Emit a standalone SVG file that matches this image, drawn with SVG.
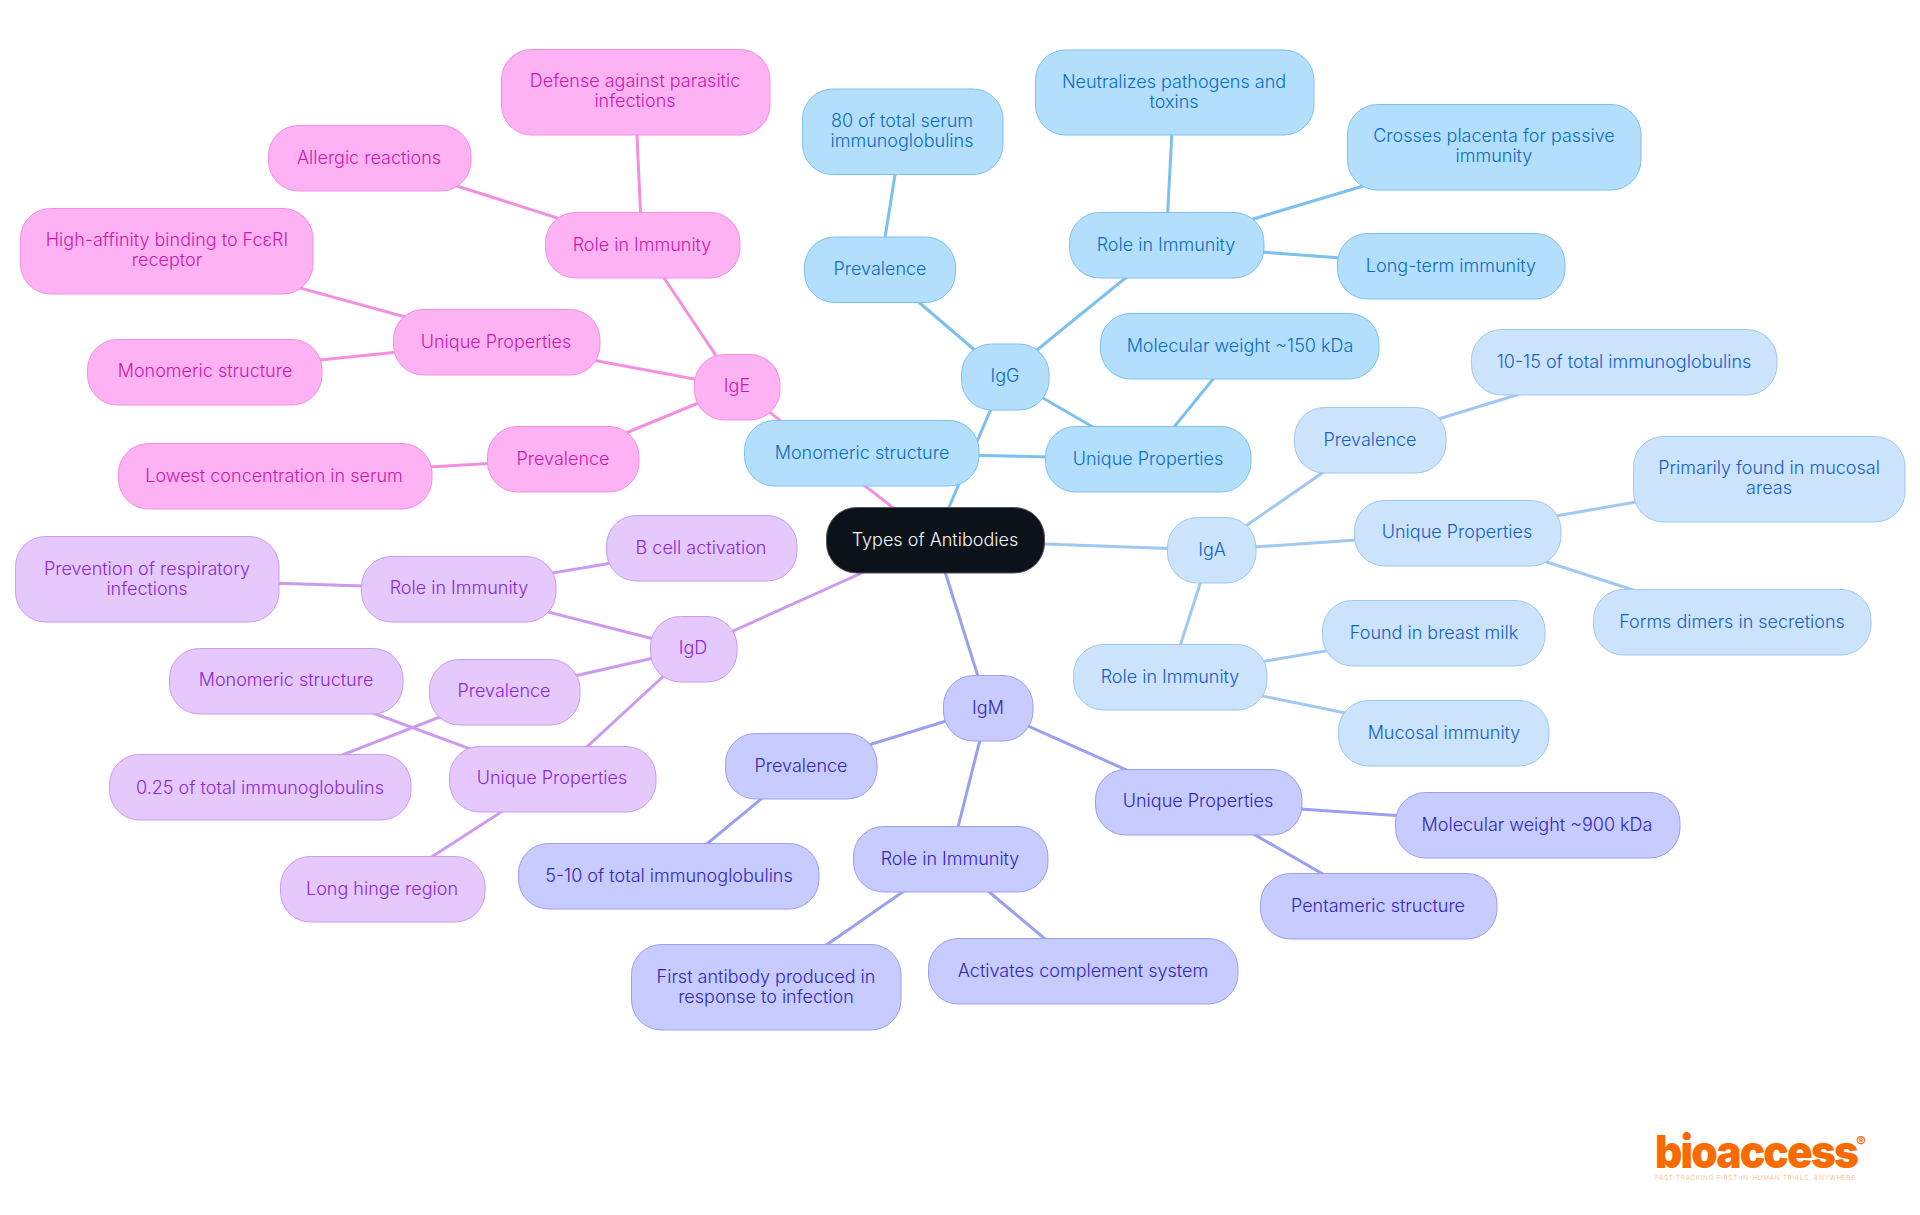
<svg xmlns="http://www.w3.org/2000/svg" width="1920" height="1215" viewBox="0 0 1920 1215">
<style>
text{font-family:Inter,"Noto Sans","Liberation Sans",sans-serif;font-size:18px;font-weight:350;text-anchor:middle}
rect{stroke-width:1}
#connectors line{stroke-width:3;fill:none}
.g line{stroke:#7cc0f0}.a line{stroke:#9fc8f2}.m line{stroke:#9a9ff0}.d line{stroke:#cd9af0}.e line{stroke:#f48fe0}
.G rect{fill:#b3dffd;stroke:#7cc0f0}.G text{fill:#0b6cc4}
.A rect{fill:#cce3fc;stroke:#9fc8f2}.A text{fill:#1560c8}
.M rect{fill:#c7cbfd;stroke:#9a9ff0}.M text{fill:#3226c0}
.D rect{fill:#e5c9fc;stroke:#cd9af0}.D text{fill:#8a28d8}
.E rect{fill:#fdb3f3;stroke:#f48fe0}.E text{fill:#cc18ac}
.R rect{fill:#0c121a;stroke:#555}.R text{fill:#f6f6f6}
</style>
<g id="connectors">
<g class="g">
<line x1="935" y1="540" x2="1005" y2="376"/><line x1="1005" y1="376" x2="880" y2="269"/><line x1="880" y1="269" x2="902" y2="131"/>
<line x1="1005" y1="376" x2="1166" y2="245"/><line x1="1166" y1="245" x2="1174" y2="92"/><line x1="1166" y1="245" x2="1494" y2="147"/><line x1="1166" y1="245" x2="1451" y2="266"/>
<line x1="1005" y1="376" x2="1148" y2="459"/><line x1="1148" y1="459" x2="1240" y2="346"/><line x1="1148" y1="459" x2="862" y2="453"/>
</g>
<g class="a">
<line x1="935" y1="540" x2="1211" y2="550"/><line x1="1211" y1="550" x2="1370" y2="440"/><line x1="1370" y1="440" x2="1624" y2="362"/>
<line x1="1211" y1="550" x2="1457" y2="533"/><line x1="1457" y1="533" x2="1769" y2="479"/><line x1="1457" y1="533" x2="1732" y2="622"/>
<line x1="1211" y1="550" x2="1170" y2="677"/><line x1="1170" y1="677" x2="1433" y2="633"/><line x1="1170" y1="677" x2="1443" y2="733"/>
</g>
<g class="m">
<line x1="935" y1="540" x2="988" y2="708"/><line x1="988" y1="708" x2="801" y2="766"/><line x1="801" y1="766" x2="668" y2="876"/>
<line x1="988" y1="708" x2="950" y2="859"/><line x1="950" y1="859" x2="766" y2="987"/><line x1="950" y1="859" x2="1083" y2="971"/>
<line x1="988" y1="708" x2="1198" y2="802"/><line x1="1198" y1="802" x2="1537" y2="825"/><line x1="1198" y1="802" x2="1378" y2="906"/>
</g>
<g class="d">
<line x1="935" y1="540" x2="693" y2="649"/><line x1="693" y1="649" x2="458" y2="589"/><line x1="458" y1="589" x2="701" y2="548"/><line x1="458" y1="589" x2="147" y2="579"/>
<line x1="693" y1="649" x2="504" y2="692"/><line x1="504" y1="692" x2="260" y2="787"/>
<line x1="693" y1="649" x2="552" y2="779"/><line x1="552" y1="779" x2="286" y2="681"/><line x1="552" y1="779" x2="382" y2="889"/>
</g>
<g class="e">
<line x1="935" y1="540" x2="737" y2="387"/><line x1="737" y1="387" x2="642" y2="245"/><line x1="642" y1="245" x2="635" y2="92"/><line x1="642" y1="245" x2="369" y2="158"/>
<line x1="737" y1="387" x2="496" y2="342"/><line x1="496" y1="342" x2="166" y2="251"/><line x1="496" y1="342" x2="204" y2="372"/>
<line x1="737" y1="387" x2="563" y2="459"/><line x1="563" y1="459" x2="275" y2="476"/>
</g>
</g>
<g id="root" class="R"><rect x="826.500" y="507.500" width="218" height="65.500" rx="30"/><text x="935" y="546">Types of Antibodies</text></g>
<g id="igg" class="G"><rect x="961.500" y="344" width="87.500" height="66" rx="30"/><text x="1005" y="382">IgG</text></g>
<g id="igg-prev" class="G"><rect x="804.500" y="237" width="151" height="65.500" rx="30"/><text x="880" y="275">Prevalence</text></g>
<g id="igg-prev-1" class="G"><rect x="802.500" y="89" width="200.500" height="85.500" rx="30"/><text x="902" y="127">80 of total serum</text><text x="902" y="147">immunoglobulins</text></g>
<g id="igg-role" class="G"><rect x="1069.500" y="212.500" width="194.500" height="65.500" rx="30"/><text x="1166" y="251">Role in Immunity</text></g>
<g id="igg-role-1" class="G"><rect x="1035.500" y="50" width="278.500" height="85" rx="30"/><text x="1174" y="88">Neutralizes pathogens and</text><text x="1174" y="108">toxins</text></g>
<g id="igg-role-2" class="G"><rect x="1347.500" y="104.500" width="293.500" height="85.500" rx="30"/><text x="1494" y="142">Crosses placenta for passive</text><text x="1494" y="162">immunity</text></g>
<g id="igg-role-3" class="G"><rect x="1337.500" y="233.500" width="227.500" height="65.500" rx="30"/><text x="1451" y="272">Long-term immunity</text></g>
<g id="igg-uniq" class="G"><rect x="1045.500" y="426.500" width="205.500" height="65.500" rx="30"/><text x="1148" y="465">Unique Properties</text></g>
<g id="igg-uniq-1" class="G"><rect x="1100.500" y="313.500" width="278.500" height="65.500" rx="30"/><text x="1240" y="352">Molecular weight ~150 kDa</text></g>
<g id="igg-uniq-2" class="G"><rect x="744.500" y="420.500" width="234.500" height="65.500" rx="30"/><text x="862" y="459">Monomeric structure</text></g>
<g id="iga" class="A"><rect x="1167.500" y="517.500" width="88.500" height="65.500" rx="30"/><text x="1212" y="556">IgA</text></g>
<g id="iga-prev" class="A"><rect x="1294.500" y="407.500" width="151.500" height="65.500" rx="30"/><text x="1370" y="446">Prevalence</text></g>
<g id="iga-prev-1" class="A"><rect x="1471.500" y="329.500" width="305.500" height="65.500" rx="30"/><text x="1624" y="368">10-15 of total immunoglobulins</text></g>
<g id="iga-uniq" class="A"><rect x="1354.500" y="500.500" width="206.500" height="65.500" rx="30"/><text x="1457" y="538">Unique Properties</text></g>
<g id="iga-uniq-1" class="A"><rect x="1633.500" y="436.500" width="271.500" height="85.500" rx="30"/><text x="1769" y="474">Primarily found in mucosal</text><text x="1769" y="494">areas</text></g>
<g id="iga-uniq-2" class="A"><rect x="1593.500" y="589.500" width="277.500" height="65.500" rx="30"/><text x="1732" y="628">Forms dimers in secretions</text></g>
<g id="iga-role" class="A"><rect x="1073.500" y="644.500" width="193.500" height="65.500" rx="30"/><text x="1170" y="683">Role in Immunity</text></g>
<g id="iga-role-1" class="A"><rect x="1322.500" y="600.500" width="222.500" height="65.500" rx="30"/><text x="1434" y="639">Found in breast milk</text></g>
<g id="iga-role-2" class="A"><rect x="1338.500" y="700.500" width="210.500" height="65.500" rx="30"/><text x="1444" y="739">Mucosal immunity</text></g>
<g id="igm" class="M"><rect x="943.500" y="675.500" width="89.500" height="65.500" rx="30"/><text x="988" y="714">IgM</text></g>
<g id="igm-prev" class="M"><rect x="725.500" y="733.500" width="151.500" height="65.500" rx="30"/><text x="801" y="772">Prevalence</text></g>
<g id="igm-prev-1" class="M"><rect x="518.500" y="843.500" width="300.500" height="65.500" rx="30"/><text x="669" y="882">5-10 of total immunoglobulins</text></g>
<g id="igm-role" class="M"><rect x="853.500" y="826.500" width="194.500" height="65.500" rx="30"/><text x="950" y="865">Role in Immunity</text></g>
<g id="igm-role-1" class="M"><rect x="631.500" y="944.500" width="269.500" height="85.500" rx="30"/><text x="766" y="983">First antibody produced in</text><text x="766" y="1003">response to infection</text></g>
<g id="igm-role-2" class="M"><rect x="928.500" y="938.500" width="309.500" height="65.500" rx="30"/><text x="1083" y="977">Activates complement system</text></g>
<g id="igm-uniq" class="M"><rect x="1095.500" y="769.500" width="206.500" height="65.500" rx="30"/><text x="1198" y="807">Unique Properties</text></g>
<g id="igm-uniq-1" class="M"><rect x="1395.500" y="792.500" width="284.500" height="65.500" rx="30"/><text x="1537" y="831">Molecular weight ~900 kDa</text></g>
<g id="igm-uniq-2" class="M"><rect x="1260.500" y="873.500" width="236.500" height="65.500" rx="30"/><text x="1378" y="912">Pentameric structure</text></g>
<g id="igd" class="D"><rect x="650.500" y="616.500" width="86.500" height="65.500" rx="30"/><text x="693" y="654">IgD</text></g>
<g id="igd-role" class="D"><rect x="361.500" y="556.500" width="194.500" height="65.500" rx="30"/><text x="459" y="594">Role in Immunity</text></g>
<g id="igd-role-1" class="D"><rect x="606.500" y="515.500" width="190.500" height="65.500" rx="30"/><text x="701" y="554">B cell activation</text></g>
<g id="igd-role-2" class="D"><rect x="15.500" y="536.500" width="263.500" height="85.500" rx="30"/><text x="147" y="575">Prevention of respiratory</text><text x="147" y="595">infections</text></g>
<g id="igd-prev" class="D"><rect x="429.500" y="659.500" width="150.500" height="65.500" rx="30"/><text x="504" y="697">Prevalence</text></g>
<g id="igd-prev-1" class="D"><rect x="109.500" y="754.500" width="301.500" height="65.500" rx="30"/><text x="260" y="794">0.25 of total immunoglobulins</text></g>
<g id="igd-uniq" class="D"><rect x="449.500" y="746.500" width="206.500" height="65.500" rx="30"/><text x="552" y="784">Unique Properties</text></g>
<g id="igd-uniq-1" class="D"><rect x="169.500" y="648.500" width="233.500" height="65.500" rx="30"/><text x="286" y="686">Monomeric structure</text></g>
<g id="igd-uniq-2" class="D"><rect x="280.500" y="856.500" width="204.500" height="65.500" rx="30"/><text x="382" y="895">Long hinge region</text></g>
<g id="ige" class="E"><rect x="694.500" y="354.500" width="85.500" height="65.500" rx="30"/><text x="737" y="392">IgE</text></g>
<g id="ige-role" class="E"><rect x="545.500" y="212.500" width="194.500" height="65.500" rx="30"/><text x="642" y="251">Role in Immunity</text></g>
<g id="ige-role-1" class="E"><rect x="501.500" y="49.500" width="268.500" height="85.500" rx="30"/><text x="635" y="87">Defense against parasitic</text><text x="635" y="107">infections</text></g>
<g id="ige-role-2" class="E"><rect x="268.500" y="125.500" width="202.500" height="65.500" rx="30"/><text x="369" y="164">Allergic reactions</text></g>
<g id="ige-uniq" class="E"><rect x="393.500" y="309.500" width="206.500" height="65.500" rx="30"/><text x="496" y="348">Unique Properties</text></g>
<g id="ige-uniq-1" class="E"><rect x="20.500" y="208.500" width="292.500" height="85.500" rx="30"/><text x="167" y="246">High-affinity binding to FcεRI</text><text x="167" y="266">receptor</text></g>
<g id="ige-uniq-2" class="E"><rect x="87.500" y="339.500" width="234.500" height="65.500" rx="30"/><text x="205" y="377">Monomeric structure</text></g>
<g id="ige-prev" class="E"><rect x="487.500" y="426.500" width="151.500" height="65.500" rx="30"/><text x="563" y="465">Prevalence</text></g>
<g id="ige-prev-1" class="E"><rect x="118.500" y="443.500" width="313.500" height="65.500" rx="30"/><text x="274" y="482">Lowest concentration in serum</text></g>
<g id="logo">
<text x="1756" y="1168" style="font-size:46px;font-weight:900;letter-spacing:-2px;fill:#f96b00" textLength="202" lengthAdjust="spacingAndGlyphs">bioaccess</text>
<text x="1861" y="1147" style="font-size:15px;font-weight:700;fill:#f96b00">®</text>
<text x="1755" y="1180" style="font-size:6.500px;fill:#fbb27c" textLength="200">FAST-TRACKING FIRST-IN-HUMAN TRIALS, ANYWHERE</text>
</g>
</svg>
